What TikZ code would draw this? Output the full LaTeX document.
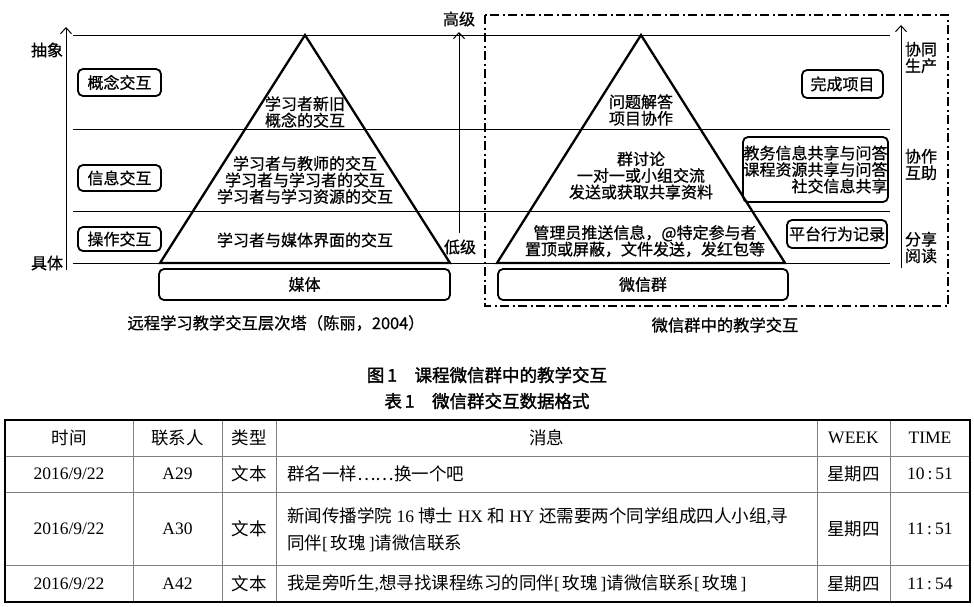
\documentclass[tikz,border=0pt]{standalone}
\usepackage{fontspec}
\setmainfont{Liberation Serif}
\newfontfamily\cjk{Noto Sans CJK SC}
\newfontfamily\cjkm[FakeBold=0.7]{Noto Sans CJK SC}
\newfontfamily\cjkb[FakeBold=1.6]{Noto Sans CJK SC}
\usetikzlibrary{arrows.meta}
\newcommand\dfont{\cjkm\fontsize{16}{16.5}\selectfont}
\newcommand\capfont{\cjkm\fontsize{16.3}{16.5}\selectfont}
\newcommand\figfont{\cjkb\fontsize{17.5}{18}\selectfont}
\newcommand\tabfont{\fontsize{17.5}{27}\selectfont}
\begin{document}
\begin{tikzpicture}[x=1pt,y=-1pt,
  lvl/.style={line width=1pt},
  pyr/.style={line width=2.3pt, line join=miter},
  rbox/.style={draw, rounded corners=5pt, line width=1.8pt, inner sep=0pt, font=\dfont, align=center},
  lbl/.style={inner sep=0pt, font=\dfont, align=center},
  arr/.style={line width=1pt, -{Straight Barb[length=6pt,width=11pt,line width=1pt]}},
  ddot/.style={line width=1.8pt, dash pattern=on 9pt off 3.5pt on 2pt off 3.5pt},
  tline/.style={line width=0.9pt, draw=black!50},
  tout/.style={line width=1.6pt, draw=black},
  tcell/.style={inner sep=0pt, font=\tabfont, align=center},
]
\fill[white] (0,0) rectangle (974,606);
\useasboundingbox (0,0) rectangle (974,606);

% level lines
\draw[lvl] (73,35) -- (890,35);
\draw[lvl] (73,129) -- (890,129);
\draw[lvl] (73,211) -- (890,211);
\draw[lvl] (73,263) -- (890,263);

% dash-dot frame
\draw[ddot] (485,15) rectangle (948,306);

% axes
\draw[arr] (66,270) -- (66,27);
\draw[arr] (459,233) -- (459,32);
\draw[arr] (901,268) -- (901,25);

\node[lbl] (abs) at (47,50) {抽象};
\node[lbl] (con) at (47,263) {具体};
\node[lbl] (hi) at (459,19) {高级};
\node[lbl] (lo) at (460,247) {低级};

% left pyramid
\draw[pyr] (160,263) -- (305,35) -- (450,263) -- cycle;
\node[lbl] (l1) at (305,112) {学习者新旧\\概念的交互};
\node[lbl] (l2) at (305,180) {学习者与教师的交互\\学习者与学习者的交互\\学习者与学习资源的交互};
\node[lbl] (l3) at (305,240) {学习者与媒体界面的交互};
\node[rbox, minimum width=291pt, minimum height=31pt] (media) at (304.5,284.5) {媒体};

\node[rbox, minimum width=83pt, minimum height=27pt] (b1) at (119.5,82.5) {概念交互};
\node[rbox, minimum width=83pt, minimum height=26pt] (b2) at (119.5,178) {信息交互};
\node[rbox, minimum width=83pt, minimum height=24pt] (b3) at (119.5,239) {操作交互};

\node[lbl, font=\capfont] (capL) at (276,323) {远程学习教学交互层次塔（陈丽，2004）};

% right pyramid
\draw[pyr] (497,263) -- (641,35) -- (785,263) -- cycle;
\node[lbl] (r1) at (641,110) {问题解答\\项目协作};
\node[lbl] (r2) at (641,175.5) {群讨论\\一对一或小组交流\\发送或获取共享资料};
\node[lbl] (r3) at (645,241) {管理员推送信息，@特定参与者\\置顶或屏蔽，文件发送，发红包等};
\node[rbox, minimum width=290pt, minimum height=31pt] (wx) at (643,284.5) {微信群};

\node[rbox, minimum width=81pt, minimum height=28pt] (c1) at (842.5,84) {完成项目};
\node[rbox, minimum width=145pt, minimum height=65pt, align=right] (c2) at (815.5,169.5) {教务信息共享与问答\\课程资源共享与问答\\社交信息共享};
\node[rbox, minimum width=100pt, minimum height=28pt] (c3) at (837,234) {平台行为记录};

\node[lbl] (s1) at (921,57.5) {协同\\生产};
\node[lbl] (s2) at (921,164.5) {协作\\互助};
\node[lbl] (s3) at (921,247.5) {分享\\阅读};

\node[lbl, font=\capfont] (capR) at (725,325) {微信群中的教学交互};

% figure / table captions
\node[lbl, font=\figfont] (fig) at (487,375) {图\,1\quad 课程微信群中的教学交互};
\node[lbl, font=\figfont] (tab) at (487,401) {表\,1\quad 微信群交互数据格式};

% table grid
\draw[tline] (5,456) -- (970,456);
\draw[tline] (5,492) -- (970,492);
\draw[tline] (5,565) -- (970,565);
\foreach \cx in {133,222,276,817,890} \draw[tline] (\cx,420) -- (\cx,602);
\draw[tout] (5,420) rectangle (970,602);

% header
\node[tcell] (h1) at (69,438) {\cjk 时间};
\node[tcell] (h2) at (177.5,438) {\cjk 联系人};
\node[tcell] (h3) at (249,438) {\cjk 类型};
\node[tcell] (h4) at (546.5,438) {\cjk 消息};
\node[tcell] (h5) at (853.5,438) {WEEK};
\node[tcell] (h6) at (930,438) {TIME};

% row 1
\node[tcell] (a1) at (69,474) {2016/9/22};
\node[tcell] (a2) at (177.5,474) {A29};
\node[tcell] (a3) at (249,474) {\cjk 文本};
\node[tcell, anchor=west] (a4) at (287,474) {\cjk 群名一样……换一个吧};
\node[tcell] (a5) at (853.5,474) {\cjk 星期四};
\node[tcell] (a6) at (930,474) {10\,:\,51};

% row 2
\node[tcell] (b1t) at (69,528.5) {2016/9/22};
\node[tcell] (b2t) at (177.5,528.5) {A30};
\node[tcell] (b3t) at (249,528.5) {\cjk 文本};
\node[tcell, anchor=west, align=left] (b4t) at (287,530) {{\cjk 新闻传播学院} 16 {\cjk 博士} HX {\cjk 和} HY {\cjk 还需要两个同学组成四人小组},{\cjk 寻}\\{\cjk 同伴}[\,{\cjk 玫瑰}\,]{\cjk 请微信联系}};
\node[tcell] (b5t) at (853.5,528.5) {\cjk 星期四};
\node[tcell] (b6t) at (930,528.5) {11\,:\,51};

% row 3
\node[tcell] (c1t) at (69,583.5) {2016/9/22};
\node[tcell] (c2t) at (177.5,583.5) {A42};
\node[tcell] (c3t) at (249,583.5) {\cjk 文本};
\node[tcell, anchor=west] (c4t) at (287,583.5) {{\cjk 我是旁听生},{\cjk 想寻找课程练习的同伴}[\,{\cjk 玫瑰}\,]{\cjk 请微信联系}[\,{\cjk 玫瑰}\,]};
\node[tcell] (c5t) at (853.5,583.5) {\cjk 星期四};
\node[tcell] (c6t) at (930,583.5) {11\,:\,54};
\end{tikzpicture}
\end{document}
